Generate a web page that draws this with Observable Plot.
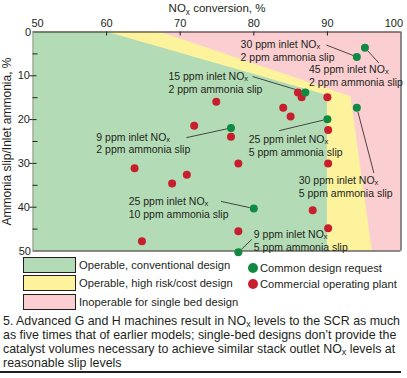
<!DOCTYPE html>
<html>
<head>
<meta charset="utf-8">
<script src="https://cdn.jsdelivr.net/npm/d3@7"></script>
<script src="https://cdn.jsdelivr.net/npm/@observablehq/plot@0.6"></script>
<style>
  html, body { margin: 0; padding: 0; background: #fff; }
  #wrap { position: relative; width: 407px; height: 378px; overflow: hidden; font-family: "Liberation Sans", Arial, Helvetica, sans-serif; color: #231f20; }
  #chart svg { display: block; overflow: visible; }
  .sw { position: absolute; left: 22.5px; width: 51px; height: 14px; border: 1px solid #231f20; }
  .lt { position: absolute; font-size: 11.2px; line-height: 13px; white-space: nowrap; }
  .dotl { position: absolute; width: 10px; height: 10px; border-radius: 50%; }
  .cl { position: absolute; left: 3px; font-size: 12.4px; line-height: 13px; height: 13px; white-space: nowrap; }
  .cl .sb { font-size: 0.72em; position: relative; top: 2px; }
  #rule { position: absolute; left: 0; top: 371px; width: 401px; height: 1.5px; background: #231f20; }
</style>
</head>
<body>
<div id="wrap">
  <div id="chart"></div>
  <div id="legend"></div>
  <div id="caption"></div>
  <div id="rule"></div>
</div>
<script>
// ---- Data ----
const xTicks = [50, 60, 70, 80, 90, 100];
const yMajorTicks = [0, 10, 20, 30, 40, 50];
const yMinorTicks = [5, 15, 25, 35, 45];

// Zone boundaries (x extent of each zone at given ammonia-slip levels)
const zoneY = [0, 14.8, 50];
const conventionalRight = [60, 90, 90];
const highRiskRight = [67.2, 93.2, 96.1];
const inoperableRight = [100, 100, 100];
const conventionalY = [0, 14.5, 50];

// Common design requests (green)
const requestX = [95.1, 94.0, 87.0, 94.0, 90.0, 76.9, 80.0, 77.9];
const requestY = [3.6, 5.7, 13.8, 17.3, 19.9, 21.9, 40.3, 50.3];

// Commercial operating plants (red)
const plantX = [86.0, 86.5, 90.0, 74.9, 84.0, 85.0, 71.9, 90.1, 76.9, 77.9, 90.1, 63.8, 70.9, 68.9, 88.0, 90.1, 77.9, 64.8];
const plantY = [13.8, 14.9, 14.9, 15.9, 17.3, 19.3, 21.4, 22.4, 23.9, 30.0, 30.0, 31.1, 32.6, 34.6, 40.7, 44.8, 45.5, 47.8];

// Annotations
const annLine1 = ["30 ppm inlet NOx", "45 ppm inlet NOx", "15 ppm inlet NOx", "9 ppm inlet NOx", "25 ppm inlet NOx", "30 ppm inlet NOx", "25 ppm inlet NOx", "9 ppm inlet NOx"];
const annLine2 = ["2 ppm ammonia slip", "2 ppm ammonia slip", "2 ppm ammonia slip", "2 ppm ammonia slip", "5 ppm ammonia slip", "5 ppm ammonia slip", "10 ppm ammonia slip", "5 ppm ammonia slip"];
const annTextX = [78.2, 87.5, 68.4, 58.6, 79.3, 86.1, 63.0, 80.0];
const annTextY = [2.85, 8.6, 10.2, 24.0, 24.5, 33.9, 38.7, 46.2];
const annArrowX = [89.9, 96.95, 79.9, 70.9, 83.5, 96.3, 75.6, 79.7];
const annArrowY = [3.0, 7.0, 10.2, 24.1, 22.5, 32.1, 38.7, 47.4];
const annTarget = [1, 0, 2, 5, 4, 3, 6, 7]; // index into request arrays
const annBend = [30, 40, 30, -30, 40, 25, 10, 0];

// Legend
const zoneLabels = ["Operable, conventional design", "Operable, high risk/cost design", "Inoperable for single bed design"];
const dotLabels = ["Common design request", "Commercial operating plant"];
const captionLines = [
  "5. Advanced G and H machines result in NOx levels to the SCR as much",
  "as five times that of earlier models; single-bed designs don\u2019t provide the",
  "catalyst volumes necessary to achieve similar stack outlet NOx levels at",
  "reasonable slip levels"
];

// ---- Colours ----
const cGreen = "#b3dcb6", cYellow = "#fcf39c", cPink = "#fbcfd2";
const cDotGreen = "#108a42", cDotRed = "#c81f2f", ink = "#231f20";

// ---- Tables ----
const zones = zoneY.map((y, i) => ({y, conv: conventionalRight[i], conY: conventionalY[i], risk: highRiskRight[i], inop: inoperableRight[i]}));
const requests = requestX.map((x, i) => ({x, y: requestY[i]}));
const plants = plantX.map((x, i) => ({x, y: plantY[i]}));
const anns = annLine1.map((t, i) => ({
  label: t + "\n" + annLine2[i], tx: annTextX[i], ty: annTextY[i],
  ax: annArrowX[i], ay: annArrowY[i],
  dx: requestX[annTarget[i]], dy: requestY[annTarget[i]], bend: annBend[i]
}));

const W = 407, H = 258, mL = 32.5, mR = 6.5, mT = 31.5, mB = 7.5;
const innerH = H - mT - mB, innerW = W - mL - mR;
const font = "Liberation Sans, Arial, Helvetica, sans-serif";
const midX = xTicks.slice(1, xTicks.length - 1);
const annFont = 10.5, annLead = 12.6;

const plot = Plot.plot({
  width: W, height: H,
  marginLeft: mL, marginRight: mR, marginTop: mT, marginBottom: mB,
  style: {fontFamily: font, fontSize: "11px", color: ink, background: "transparent", overflow: "visible"},
  x: {domain: [50, 100]},
  y: {domain: [0, 50], reverse: true},
  marks: [
    Plot.areaX(zones, {y: "y", x1: 50, x2: "inop", fill: cPink}),
    Plot.areaX(zones, {y: "y", x1: 50, x2: "risk", fill: cYellow}),
    Plot.areaX(zones, {y: "conY", x1: 50, x2: "conv", fill: cGreen}),
    // frame: top, right, bottom dark; left gray
    Plot.ruleY([0], {stroke: ink, strokeWidth: 1}),
    Plot.ruleY([50], {stroke: ink, strokeWidth: 1.2}),
    Plot.ruleX([100], {stroke: ink, strokeWidth: 1}),
    Plot.ruleX([50], {stroke: "#9a9a9a", strokeWidth: 1}),
    // inward ticks
    Plot.tickX(midX, {x: d => d, stroke: ink, insetBottom: innerH - 4}),
    Plot.tickY(yMinorTicks, {y: d => d, stroke: ink, insetRight: innerW - 5}),
    Plot.tickY(yMajorTicks.slice(1, 5), {y: d => d, stroke: ink, insetRight: innerW - 4}),
    Plot.axisX(midX, {anchor: "top", tickSize: 0, tickPadding: 5, fontSize: 11, fill: ink, label: null}),
    Plot.axisX([xTicks[0]], {anchor: "top", tickSize: 0, tickPadding: 5, fontSize: 11, fill: ink, label: null, textAnchor: "start", dx: -1.5}),
    Plot.axisX([xTicks[xTicks.length - 1]], {anchor: "top", tickSize: 0, tickPadding: 5, fontSize: 11, fill: ink, label: null, textAnchor: "end", dx: 2}),
    Plot.axisY(yMajorTicks.slice(1, 5), {anchor: "left", tickSize: 3, tickPadding: 0, stroke: ink, fill: ink, label: null}),
    Plot.axisY([0, 50], {anchor: "left", tickSize: 0, tickPadding: 2, fill: ink, label: null}),
    // axis titles
    Plot.text(["NOx conversion, %"], {frameAnchor: "top", lineAnchor: "middle", dy: -23.5, fontSize: 11.5, fill: ink, className: "subx"}),
    Plot.text(["Ammonia slip/Inlet ammonia, %"], {frameAnchor: "left", textAnchor: "middle", lineAnchor: "middle", dx: -25.5, rotate: -90, fontSize: 12, fill: ink}),
    // arrows
    Plot.arrow(anns, {x1: "ax", y1: "ay", x2: "dx", y2: "dy", bend: d => d.bend, stroke: ink, strokeWidth: 0.8, headLength: 5, insetEnd: 4.5}),
    // dots
    Plot.dot(plants, {x: "x", y: "y", r: 4, fill: cDotRed}),
    Plot.dot(requests, {x: "x", y: "y", r: 4, fill: cDotGreen}),
    // annotation text (two lines in one text element)
    Plot.text(anns, {x: "tx", y: "ty", text: "label", textAnchor: "start", lineAnchor: "middle", lineHeight: annLead / annFont, dy: annLead / 2 - 0.4, fontSize: annFont, fill: ink, className: "subx"})
  ]
});
document.getElementById("chart").appendChild(plot);

// Subscript x in NOx
const NS = "http://www.w3.org/2000/svg";
function subscriptNode(node, useShift) {
  const s = node.textContent;
  const i = s.indexOf("NOx");
  if (i < 0) return;
  const before = s.slice(0, i + 2), after = s.slice(i + 3);
  node.textContent = "";
  node.appendChild(document.createTextNode(before));
  const sub = document.createElementNS(NS, "tspan");
  sub.setAttribute("font-size", "0.72em");
  if (useShift) sub.setAttribute("style", "baseline-shift: -1.3px");
  else sub.setAttribute("dy", "2.5");
  sub.textContent = "x";
  node.appendChild(sub);
  if (after) {
    if (useShift) node.appendChild(document.createTextNode(after));
    else {
      const rest = document.createElementNS(NS, "tspan");
      rest.setAttribute("dy", "-2.5");
      rest.textContent = after;
      node.appendChild(rest);
    }
  }
}
plot.querySelectorAll(".subx text").forEach(t => {
  const spans = t.querySelectorAll("tspan");
  if (spans.length) spans.forEach(sp => subscriptNode(sp, true));
  else subscriptNode(t, false);
});

// Legend
const legend = document.getElementById("legend");
const swColors = [cGreen, cYellow, cPink];
const swTops = [257.3, 275.3, 294.3];
zoneLabels.forEach((lab, i) => {
  const sw = document.createElement("div");
  sw.className = "sw"; sw.style.top = swTops[i] + "px"; sw.style.background = swColors[i];
  legend.appendChild(sw);
  const t = document.createElement("div");
  t.className = "lt"; t.style.left = "79px"; t.style.top = (swTops[i] + 1.5) + "px"; t.textContent = lab;
  legend.appendChild(t);
});
const dotColors = [cDotGreen, cDotRed];
const dotTops = [262.5, 279];
dotLabels.forEach((lab, i) => {
  const d = document.createElement("div");
  d.className = "dotl"; d.style.left = "248px"; d.style.top = dotTops[i] + "px"; d.style.background = dotColors[i];
  legend.appendChild(d);
  const t = document.createElement("div");
  t.className = "lt"; t.style.left = "260px"; t.style.top = (dotTops[i] - 1) + "px"; t.textContent = lab;
  legend.appendChild(t);
});

// Caption, one line per div
const cap = document.getElementById("caption");
captionLines.forEach((line, i) => {
  const d = document.createElement("div");
  d.className = "cl";
  d.style.top = (314.5 + i * 14) + "px";
  d.innerHTML = line.replace(/NOx/g, 'NO<span class="sb">x</span>');
  cap.appendChild(d);
});
</script>
</body>
</html>
